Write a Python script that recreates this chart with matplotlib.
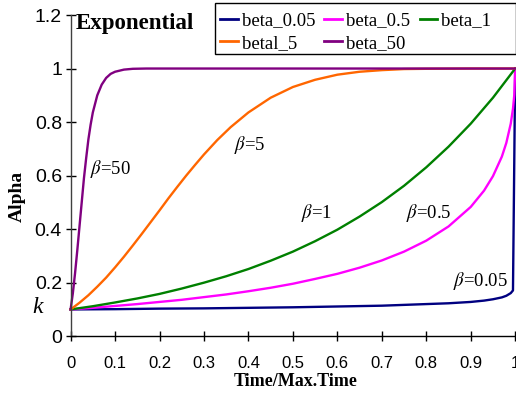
import matplotlib
matplotlib.use("Agg")
import matplotlib.pyplot as plt
from matplotlib.patches import Rectangle
from matplotlib.ticker import FixedLocator, FixedFormatter

# ---- data ----
t_b005 = [0, 0.1, 0.2, 0.3, 0.4, 0.5, 0.6, 0.7, 0.8, 0.85, 0.9, 0.93, 0.95, 0.97, 0.98, 0.99, 0.995, 1.0]
a_b005 = [0.100, 0.101, 0.103, 0.104, 0.106, 0.108, 0.111, 0.114, 0.120, 0.123, 0.128, 0.133, 0.138, 0.145, 0.151, 0.161, 0.171, 1.0]

t_b05 = [0, 0.05, 0.1, 0.15, 0.2, 0.25, 0.3, 0.35, 0.4, 0.45, 0.5, 0.55, 0.6, 0.65, 0.7, 0.75,
         0.8, 0.85, 0.9, 0.93, 0.95, 0.97, 0.98, 0.99, 0.995, 0.998, 1.0]
a_b05 = [0.100, 0.106, 0.113, 0.120, 0.128, 0.136, 0.146, 0.156, 0.168, 0.181, 0.196, 0.214, 0.233, 0.256,
         0.283, 0.316, 0.357, 0.410, 0.483, 0.544, 0.598, 0.671, 0.722, 0.794, 0.850, 0.902, 1.0]

t_b1 = [0, 0.05, 0.1, 0.15, 0.2, 0.25, 0.3, 0.35, 0.4, 0.45, 0.5, 0.55, 0.6, 0.65, 0.7, 0.75, 0.8, 0.85, 0.9, 0.95, 1.0]
a_b1 = [0.100, 0.112, 0.126, 0.141, 0.158, 0.178, 0.200, 0.224, 0.251, 0.282, 0.316, 0.355, 0.398, 0.447,
        0.501, 0.562, 0.631, 0.708, 0.794, 0.891, 1.000]

t_b5 = [0, 0.02, 0.04, 0.06, 0.08, 0.10, 0.12, 0.14, 0.16, 0.18, 0.20, 0.22, 0.24, 0.26, 0.28, 0.30,
        0.33, 0.36, 0.40, 0.45, 0.50, 0.55, 0.60, 0.65, 0.70, 0.75, 0.80, 0.90, 1.0]
a_b5 = [0.100, 0.125, 0.153, 0.185, 0.219, 0.257, 0.297, 0.339, 0.382, 0.426, 0.470, 0.515, 0.558, 0.600,
        0.640, 0.679, 0.733, 0.781, 0.836, 0.891, 0.931, 0.958, 0.977, 0.988, 0.994, 0.998, 0.999, 1.0, 1.0]

t_b50 = [0, 0.005, 0.01, 0.015, 0.02, 0.025, 0.03, 0.035, 0.04, 0.045, 0.05, 0.06, 0.07, 0.08, 0.09,
         0.10, 0.12, 0.14, 0.17, 0.2, 0.4, 0.6, 0.8, 1.0]
a_b50 = [0.100, 0.160, 0.235, 0.320, 0.410, 0.500, 0.590, 0.665, 0.735, 0.790, 0.836, 0.900, 0.940, 0.965,
         0.980, 0.988, 0.996, 0.999, 1.0, 1.0, 1.0, 1.0, 1.0, 1.0]

series_labels = ["beta_0.05", "beta_0.5", "beta_1", "betal_5", "beta_50"]
series_colors = ["#000080", "#FF00FF", "#008000", "#FF6600", "#800080"]

x_ticks = [0, 0.1, 0.2, 0.3, 0.4, 0.5, 0.6, 0.7, 0.8, 0.9, 1.0]
x_ticklabels = ["0", "0.1", "0.2", "0.3", "0.4", "0.5", "0.6", "0.7", "0.8", "0.9", "1"]
y_ticks = [0, 0.2, 0.4, 0.6, 0.8, 1.0, 1.2]
y_ticklabels = ["0", "0.2", "0.4", "0.6", "0.8", "1", "1.2"]

# ---- figure ----
plt.rcParams["mathtext.fontset"] = "stix"
W, H = 516, 394
fig = plt.figure(figsize=(W / 100, H / 100), dpi=100)
ax = fig.add_axes([70.6 / W, 1 - 336.2 / H, 444.6 / W, 321.2 / H])

serif = "Liberation Serif"
sans = "Liberation Sans"

data = [(t_b005, a_b005), (t_b05, a_b05), (t_b1, a_b1), (t_b5, a_b5), (t_b50, a_b50)]
handles = []
for (t, a), lab, col in zip(data, series_labels, series_colors):
    h, = ax.plot(t, a, color=col, lw=1.7, label=lab, clip_on=False, solid_joinstyle="round")
    handles.append(h)

ax.set_xlim(0, 1)
ax.set_ylim(0, 1.2)
for s in ["top", "right"]:
    ax.spines[s].set_visible(False)
ax.spines["left"].set_color("#404040")
ax.spines["bottom"].set_color("black")
ax.spines["left"].set_linewidth(1.0)
ax.spines["bottom"].set_linewidth(1.0)

ax.xaxis.set_major_locator(FixedLocator(x_ticks))
ax.xaxis.set_major_formatter(FixedFormatter(x_ticklabels))
ax.yaxis.set_major_locator(FixedLocator(y_ticks))
ax.yaxis.set_major_formatter(FixedFormatter(y_ticklabels))
ax.tick_params(axis="x", direction="inout", length=7, width=1, pad=10.5, labelsize=12)
ax.tick_params(axis="y", direction="inout", length=6.5, width=1, pad=3, labelsize=14)
for lbl in ax.get_xticklabels() + ax.get_yticklabels():
    lbl.set_fontfamily(sans)

ax.set_xlabel("Time/Max.Time", fontfamily=serif, fontweight="bold", fontsize=13, va="baseline")
ax.xaxis.set_label_coords((296 - 70.6) / 444.6, (336.2 - 386) / 321.2)
ax.set_ylabel("Alpha", fontfamily=serif, fontweight="bold", fontsize=14, va="center")
ax.yaxis.set_label_coords((17 - 70.6) / 444.6, (336.2 - 196) / 321.2)

def px(x, y):
    return x / W, 1 - y / H

fig.text(*px(76, 29.3), "Exponential", fontfamily=serif, fontweight="bold", fontsize=16.5,
         ha="left", va="baseline")
fig.text(*px(32, 313), "k", fontfamily=serif, fontstyle="italic", fontsize=17,
         ha="left", va="baseline")

notes = [(90.5, 174, "50"), (234, 150.5, "5"), (300.7, 218, "1"), (406, 218, "0.5"), (453.3, 286, "0.05")]
for x, y, v in notes:
    fig.text(*px(x, y), r"$\beta$=" + v, fontfamily=serif, fontsize=13.5, ha="left", va="baseline")

# legend box (Excel-style fixed-width frame)
x0, y0, x1, y1 = 215, 3.3, 515.7, 54
fig.add_artist(Rectangle(px(x0, y1), (x1 - x0) / W, (y1 - y0) / H, transform=fig.transFigure,
                         facecolor="white", edgecolor="black", lw=1.0, zorder=4))
order = [0, 3, 1, 4, 2]
leg = fig.legend([handles[i] for i in order], [series_labels[i] for i in order],
                 loc="upper left", bbox_to_anchor=px(220, 12), ncol=3,
                 prop={"family": serif, "size": 13.5}, frameon=False,
                 borderpad=0, labelspacing=0.3, handlelength=0.95, handletextpad=0.2,
                 columnspacing=0.5, borderaxespad=0)
leg.set_zorder(5)
for lh in leg.get_lines():
    lh.set_linewidth(2)

fig.savefig("out.png", dpi=100)
